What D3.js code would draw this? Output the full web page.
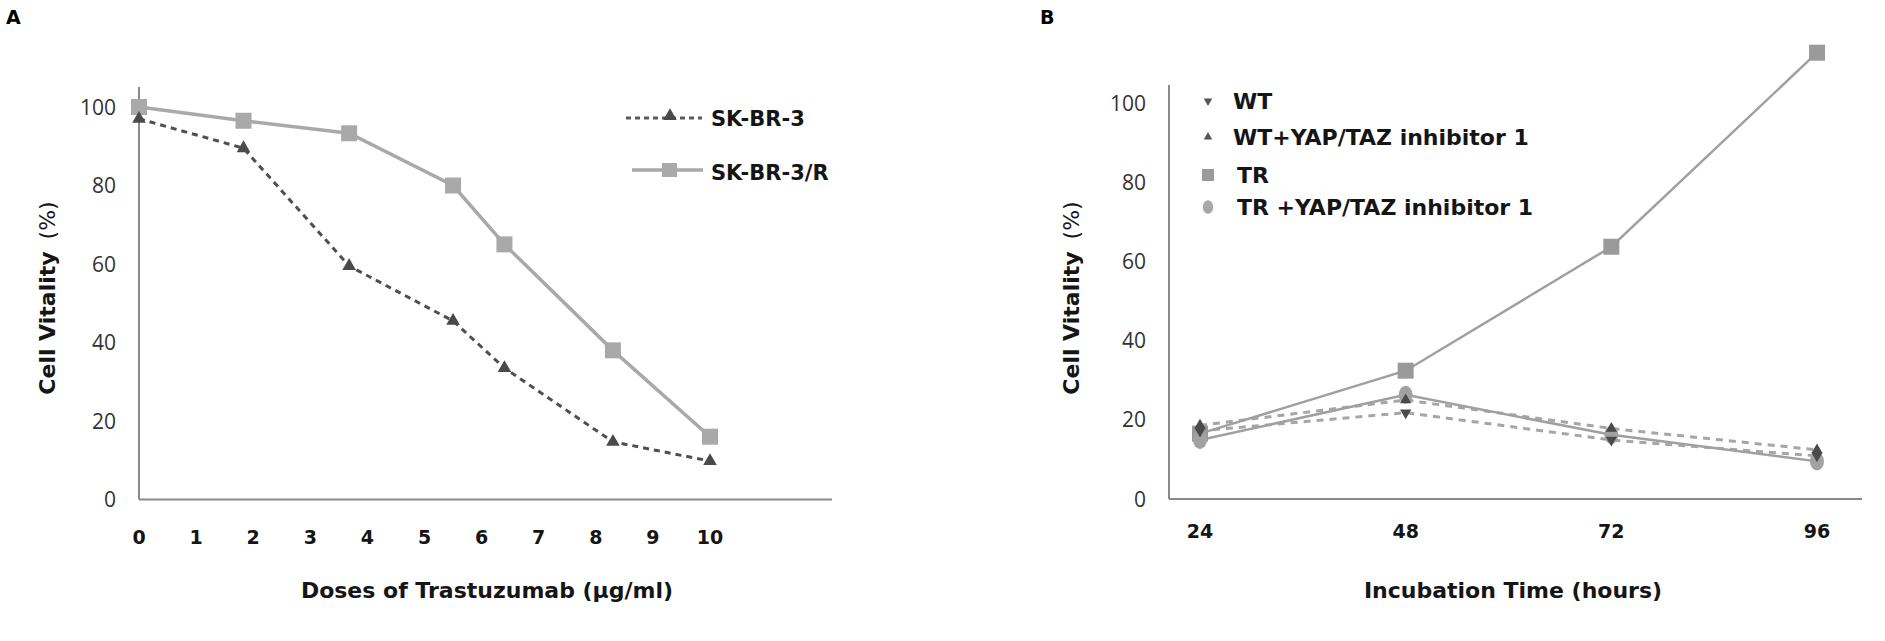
<!DOCTYPE html>
<html>
<head>
<meta charset="utf-8">
<script src="https://cdn.jsdelivr.net/npm/d3@7"></script>
<style>
  body { margin: 0; background: #fff; }
  svg { display: block; font-family: "DejaVu Sans", sans-serif; }
</style>
</head>
<body>
<div id="chart"></div>
<script>
// Panel A data
const doses = [0, 1.83, 3.68, 5.5, 6.4, 8.3, 10];
const skbr3 = [97, 89.5, 59.5, 45.5, 33.5, 14.7, 9.8];
const skbr3R = [100, 96.5, 93.3, 80, 65, 38, 16];
const doseTicks = [0, 1, 2, 3, 4, 5, 6, 7, 8, 9, 10];

// Panel B data
const hours = [24, 48, 72, 96];
const wt = [17.2, 21.8, 14.9, 10.9];
const wtInh = [18.6, 25, 17.8, 12.4];
const tr = [16.5, 32.4, 63.7, 112.7];
const trInh = [14.9, 26.3, 16.2, 9.5];

const vitalityTicks = [0, 20, 40, 60, 80, 100];

const width = 1885, height = 641;

const svg = d3.select("#chart").append("svg")
    .attr("width", width)
    .attr("height", height);

const axisColor = "#8a8a8a";
const textColor = "#151515";

function drawYAxis(g, y, x0, top) {
    g.append("line")
        .attr("x1", x0).attr("x2", x0)
        .attr("y1", y(0)).attr("y2", top)
        .attr("stroke", axisColor).attr("stroke-width", 2);
    g.append("g").selectAll("text")
        .data(vitalityTicks)
        .join("text")
        .attr("x", x0 - 23)
        .attr("y", d => y(d))
        .attr("dy", "0.36em")
        .attr("text-anchor", "end")
        .style("font-family", "'Open Sans', sans-serif")
        .style("font-size", "21px")
        .style("fill", "#333")
        .text(d => d);
}

function yTitle(g, x, yc) {
    const t = g.append("text")
        .attr("transform", `translate(${x},${yc}) rotate(-90)`)
        .attr("text-anchor", "middle")
        .style("font-size", "22px")
        .style("fill", textColor);
    t.append("tspan").style("font-weight", "bold").text("Cell Vitality");
    t.append("tspan").attr("dx", 12).style("font-weight", "normal").text("(%)");
}

// ---------------- Panel A ----------------
const gA = svg.append("g");
const xA = d3.scaleLinear().domain([0, 10]).range([139, 710]);
const yA = d3.scaleLinear().domain([0, 100]).range([499.5, 107]);

gA.append("text")
    .attr("x", 6).attr("y", 24)
    .style("font-size", "19px").style("font-weight", "bold")
    .style("fill", "#000")
    .text("A");

drawYAxis(gA, yA, 139, 87);
gA.append("line")
    .attr("x1", 139).attr("x2", 832)
    .attr("y1", yA(0)).attr("y2", yA(0))
    .attr("stroke", axisColor).attr("stroke-width", 2);

gA.append("g").selectAll("text")
    .data(doseTicks)
    .join("text")
    .attr("x", d => xA(d))
    .attr("y", 544)
    .attr("text-anchor", "middle")
    .style("font-size", "19px")
    .style("font-weight", "bold")
    .style("fill", textColor)
    .text(d => d);

gA.append("text")
    .attr("x", 487).attr("y", 598)
    .attr("text-anchor", "middle")
    .style("font-size", "22px").style("font-weight", "bold")
    .style("fill", textColor)
    .text("Doses of Trastuzumab (μg/ml)");

yTitle(gA, 55, 298);

const lineA = d3.line().x((d, i) => xA(doses[i])).y(d => yA(d));

gA.append("path")
    .datum(skbr3R)
    .attr("d", lineA)
    .attr("fill", "none")
    .attr("stroke", "#a9a9a9")
    .attr("stroke-width", 3.5);

gA.append("path")
    .datum(skbr3)
    .attr("d", lineA)
    .attr("fill", "none")
    .attr("stroke", "#4f4f4f")
    .attr("stroke-width", 3)
    .attr("stroke-dasharray", "6,5");

gA.append("g").selectAll("rect")
    .data(skbr3R)
    .join("rect")
    .attr("x", (d, i) => xA(doses[i]) - 8)
    .attr("y", d => yA(d) - 8)
    .attr("width", 16).attr("height", 16)
    .attr("fill", "#a9a9a9");

const triA = d3.symbol().type(d3.symbolTriangle).size(80);
gA.append("g").selectAll("path")
    .data(skbr3)
    .join("path")
    .attr("d", triA)
    .attr("transform", (d, i) => `translate(${xA(doses[i])},${yA(d)})`)
    .attr("fill", "#4a4a4a");

// legend A
const legA = gA.append("g");
legA.append("line")
    .attr("x1", 626).attr("x2", 702).attr("y1", 118).attr("y2", 118)
    .attr("stroke", "#5a5a5a").attr("stroke-width", 3).attr("stroke-dasharray", "5,4");
legA.append("path").attr("d", triA).attr("transform", "translate(670,116)").attr("fill", "#4a4a4a");
legA.append("line")
    .attr("x1", 632).attr("x2", 703).attr("y1", 170).attr("y2", 170)
    .attr("stroke", "#a9a9a9").attr("stroke-width", 3.5);
legA.append("rect").attr("x", 662).attr("y", 163).attr("width", 15).attr("height", 14).attr("fill", "#a9a9a9");
legA.selectAll("text.lbl")
    .data(["SK-BR-3", "SK-BR-3/R"])
    .join("text")
    .attr("x", 711)
    .attr("y", (d, i) => [118, 172][i])
    .attr("dy", "0.36em")
    .style("font-size", "21px").style("font-weight", "bold").style("fill", textColor)
    .text(d => d);

// ---------------- Panel B ----------------
const gB = svg.append("g");
const xB = d3.scaleLinear().domain([24, 96]).range([1200, 1817]);
const yB = d3.scaleLinear().domain([0, 100]).range([499, 103]);

gB.append("text")
    .attr("x", 1040).attr("y", 24)
    .style("font-size", "19px").style("font-weight", "bold")
    .style("fill", "#000")
    .text("B");

drawYAxis(gB, yB, 1169, 85);
gB.append("line")
    .attr("x1", 1169).attr("x2", 1862)
    .attr("y1", yB(0)).attr("y2", yB(0))
    .attr("stroke", axisColor).attr("stroke-width", 2);

gB.append("g").selectAll("text")
    .data(hours)
    .join("text")
    .attr("x", d => xB(d))
    .attr("y", 538)
    .attr("text-anchor", "middle")
    .style("font-size", "19px")
    .style("font-weight", "bold")
    .style("fill", textColor)
    .text(d => d);

gB.append("text")
    .attr("x", 1513).attr("y", 598)
    .attr("text-anchor", "middle")
    .style("font-size", "22px").style("font-weight", "bold")
    .style("fill", textColor)
    .text("Incubation Time (hours)");

yTitle(gB, 1079, 298);

const lineB = d3.line().x((d, i) => xB(hours[i])).y(d => yB(d));

const seriesB = [
    { name: "WT", values: wt, dash: "7,6", marker: "down", color: "#a6a6a6", mcolor: "#4a4a4a" },
    { name: "WT+YAP/TAZ inhibitor 1", values: wtInh, dash: "7,6", marker: "up", color: "#a6a6a6", mcolor: "#4a4a4a" },
    { name: "TR", values: tr, dash: null, marker: "square", color: "#a0a0a0", mcolor: "#9a9a9a" },
    { name: "TR +YAP/TAZ inhibitor 1", values: trInh, dash: null, marker: "circle", color: "#a0a0a0", mcolor: "#a2a2a2" }
];

seriesB.forEach(s => {
    gB.append("path")
        .datum(s.values)
        .attr("d", lineB)
        .attr("fill", "none")
        .attr("stroke", s.color)
        .attr("stroke-width", s.dash ? 3 : 2.5)
        .attr("stroke-dasharray", s.dash);
});

function marker(g, type, x, y, color, scale) {
    const k = scale || 1;
    if (type === "square") {
        g.append("rect")
            .attr("x", x - 8 * k).attr("y", y - 8 * k)
            .attr("width", 16 * k).attr("height", 16 * k)
            .attr("fill", color);
    } else if (type === "circle") {
        g.append("ellipse")
            .attr("cx", x).attr("cy", y)
            .attr("rx", 7 * k).attr("ry", 9 * k)
            .attr("fill", color);
    } else {
        g.append("path")
            .attr("d", d3.symbol().type(d3.symbolTriangle).size(55 * k * k)())
            .attr("transform", `translate(${x},${y})` + (type === "down" ? " rotate(180)" : ""))
            .attr("fill", color);
    }
}

// circles and squares first, triangles on top
[2, 3, 0, 1].forEach(si => {
    const s = seriesB[si];
    s.values.forEach((v, i) => marker(gB, s.marker, xB(hours[i]), yB(v), s.mcolor));
});

// legend B
const legRows = [101, 137, 175, 207];
seriesB.forEach((s, i) => {
    marker(gB, s.marker, 1208, legRows[i], s.marker === "circle" ? "#a8a8a8" : (s.marker === "square" ? "#9a9a9a" : "#555"), 0.75);
    gB.append("text")
        .attr("x", s.name.startsWith("TR") ? 1237 : 1233)
        .attr("y", legRows[i])
        .attr("dy", "0.36em")
        .style("font-size", "22px").style("font-weight", "bold").style("fill", textColor)
        .text(s.name);
});
</script>
</body>
</html>
